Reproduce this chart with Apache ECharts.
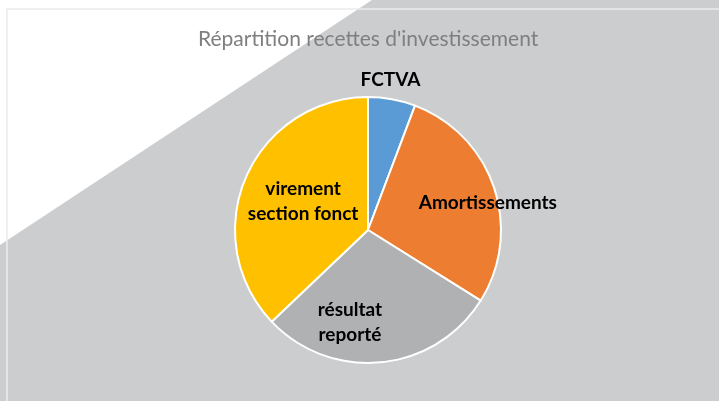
<!DOCTYPE html>
<html>
<head>
<meta charset="utf-8">
<script src="https://cdn.jsdelivr.net/npm/echarts@6/dist/echarts.min.js"></script>
<style>html,body{margin:0;padding:0;background:#cccdcf;}#c{width:719px;height:401px;}</style>
</head>
<body>
<div id="c"></div>
<script>
const titleText = "Répartition recettes d'investissement";
const categories = ["FCTVA", "Amortissements", "résultat\nreporté", "virement\nsection fonct"];
const values = [5.75, 28.15, 29.0, 37.1];
const colors = ["#5B9BD5", "#ED7D31", "#B0B1B3", "#FFC000"];
const labelOffsets = [[10, -82], [54, -5], [-25, 23], [-1, -1]];

const chart = echarts.init(document.getElementById('c'), null, {renderer: 'canvas'});
const data = categories.map((name, i) => ({
  name: name, value: values[i],
  itemStyle: {color: colors[i]},
  label: {offset: labelOffsets[i]}
}));
chart.setOption({
  animation: false,
  backgroundColor: '#cccdcf',
  graphic: [
    {type: 'polygon', z: -10, silent: true, shape: {points: [[0,0],[372,0],[0,245]]}, style: {fill: '#ffffff'}},
    {type: 'rect', z: -9, silent: true, shape: {x: 7, y: 9, width: 760, height: 460}, style: {fill: 'none', stroke: 'rgba(235,235,235,0.75)', lineWidth: 2}}
  ],
  title: {
    text: titleText, left: 193, top: 24,
    textStyle: {fontFamily: 'Lato', fontWeight: 'normal', fontSize: 21, color: '#7f7f7f'}
  },
  series: [{
    type: 'pie',
    center: [368, 230],
    radius: [0, 133],
    startAngle: 90,
    clockwise: true,
    avoidLabelOverlap: false,
    itemStyle: {borderColor: '#ffffff', borderWidth: 2},
    label: {
      show: true, position: 'inside',
      fontFamily: 'Lato', fontWeight: 'bold', fontSize: 19, color: '#000000',
      lineHeight: 25, formatter: '{b}'
    },
    labelLine: {show: false},
    data: data
  }]
});
</script>
</body>
</html>
